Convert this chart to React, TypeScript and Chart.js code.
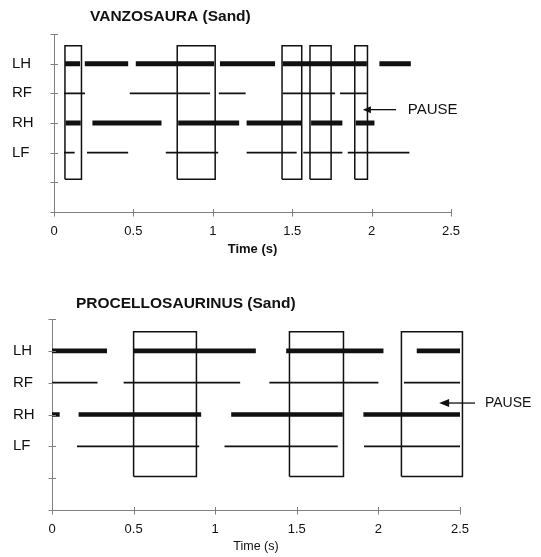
import React, { useEffect, useRef } from 'react';
import { Chart, registerables } from 'chart.js';

Chart.register(...registerables);

// ---------- shared axis data ----------
const ROW_LABELS = ['', '', 'LF', 'RH', 'RF', 'LH', ''];
const X_TICKS = [0, 0.5, 1, 1.5, 2, 2.5];
const ROW_LH = 5;
const ROW_RF = 4;
const ROW_RH = 3;
const ROW_LF = 2;

// ---------- VANZOSAURA (Sand) ----------
const V_TITLE = 'VANZOSAURA (Sand)';
const V_LH = [[0.07, 0.164], [0.194, 0.467], [0.515, 1.009], [1.045, 1.392], [1.44, 1.97], [2.049, 2.247]];
const V_RF = [[0.063, 0.195], [0.477, 0.982], [1.038, 1.207], [1.44, 1.77], [1.801, 1.97]];
const V_RH = [[0.074, 0.168], [0.242, 0.677], [0.782, 1.166], [1.213, 1.56], [1.619, 1.816], [1.9, 2.018]];
const V_LF = [[0.063, 0.13], [0.208, 0.467], [0.704, 1.034], [1.213, 1.528], [1.57, 1.816], [1.85, 2.238]];
const V_BOXES = [[0.069, 0.173], [0.776, 1.015], [1.436, 1.56], [1.612, 1.745], [1.894, 1.974]];
const V_BOX_Y = [1.1, 5.6];
const V_PAUSE = { tip: 1.945, tail: 2.154, text: 2.228, y: 3.45 };

// ---------- PROCELLOSAURINUS (Sand) ----------
const P_TITLE = 'PROCELLOSAURINUS (Sand)';
const P_LH = [[0, 0.337], [0.5, 1.249], [1.435, 2.031], [2.235, 2.5]];
const P_RF = [[0, 0.279], [0.439, 1.153], [1.332, 2.0], [2.157, 2.5]];
const P_RH = [[0, 0.047], [0.163, 0.914], [1.098, 1.782], [1.908, 2.5]];
const P_LF = [[0.153, 0.902], [1.057, 1.751], [1.912, 2.5]];
const P_BOXES = [[0.5, 0.885], [1.455, 1.786], [2.141, 2.515]];
const P_BOX_Y = [1.05, 5.6];
const P_PAUSE = { tip: 2.372, tail: 2.592, text: 2.653, y: 3.36 };

const FONT = "Arial, 'Liberation Sans', Helvetica, sans-serif";
const INK = '#111';
const AXIS = '#808080';

type Seg = number[];

function segData(segs: Seg[], row: number) {
  const out: any[] = [];
  segs.forEach(([a, b]) => {
    out.push({ x: a, y: row }, { x: b, y: row }, { x: b, y: null });
  });
  return out;
}

function boxData(boxes: Seg[], yr: number[]) {
  const [lo, hi] = yr;
  const out: any[] = [];
  boxes.forEach(([a, b]) => {
    out.push({ x: a, y: lo }, { x: a, y: hi }, { x: b, y: hi }, { x: b, y: lo }, { x: a, y: lo }, { x: a, y: null });
  });
  return out;
}

function makeDecor(spec: any) {
  return {
    id: 'gaitDecor',
    afterDraw(chart: any) {
      const { ctx, chartArea } = chart;
      const xs = chart.scales.x;
      const ys = chart.scales.y;
      ctx.save();
      // crossing tick marks
      ctx.strokeStyle = AXIS;
      ctx.lineWidth = 1;
      const axisY = Math.round(ys.getPixelForValue(0)) + 0.5;
      const axisX = Math.round(xs.getPixelForValue(0)) + 0.5;
      ctx.beginPath();
      xs.ticks.forEach((t: any) => {
        const px = Math.round(xs.getPixelForValue(t.value)) + 0.5;
        ctx.moveTo(px, axisY - 3.5);
        ctx.lineTo(px, axisY + 4);
      });
      ys.ticks.forEach((t: any) => {
        const py = Math.round(ys.getPixelForValue(t.value)) + 0.5;
        ctx.moveTo(axisX - 4, py);
        ctx.lineTo(axisX + 3.5, py);
      });
      ctx.stroke();

      // title
      ctx.fillStyle = INK;
      ctx.font = `bold ${spec.titleSize}px ${FONT}`;
      ctx.textBaseline = 'middle';
      ctx.textAlign = 'left';
      ctx.fillText(spec.title, chartArea.left + spec.titleDx, spec.titleY);

      // pause arrow
      const p = spec.pause;
      const py = ys.getPixelForValue(p.y);
      const tipX = xs.getPixelForValue(p.tip);
      const tailX = xs.getPixelForValue(p.tail);
      const textX = xs.getPixelForValue(p.text);
      ctx.strokeStyle = INK;
      ctx.lineWidth = 1.3;
      ctx.beginPath();
      ctx.moveTo(tipX + spec.headLen - 1, py);
      ctx.lineTo(tailX, py);
      ctx.stroke();
      ctx.beginPath();
      ctx.moveTo(tipX, py);
      ctx.lineTo(tipX + spec.headLen, py - spec.headHalf);
      ctx.lineTo(tipX + spec.headLen, py + spec.headHalf);
      ctx.closePath();
      ctx.fill();
      ctx.font = `${spec.pauseSize}px ${FONT}`;
      ctx.fillText('PAUSE', textX, py);
      ctx.restore();
    },
  };
}

function makeConfig(spec: any) {
  const line = (data: any[], w: number) => ({
    data,
    borderColor: INK,
    backgroundColor: INK,
    borderWidth: w,
    borderCapStyle: 'butt',
    pointRadius: 0,
    spanGaps: false,
    fill: false,
  });
  return {
    type: 'line',
    data: {
      datasets: [
        { ...line(boxData(spec.boxes, spec.boxY), 1.5), borderJoinStyle: 'miter', clip: false },
        line(segData(spec.lh, ROW_LH), spec.thick),
        line(segData(spec.rf, ROW_RF), spec.thin),
        line(segData(spec.rh, ROW_RH), spec.thick),
        line(segData(spec.lf, ROW_LF), spec.thin),
      ],
    },
    options: {
      responsive: false,
      animation: false,
      events: [],
      devicePixelRatio: 1,
      layout: { padding: spec.padding },
      plugins: { legend: { display: false }, tooltip: { enabled: false }, title: { display: false } },
      scales: {
        x: {
          type: 'linear',
          min: 0,
          max: 2.5,
          afterFit: (s: any) => { s.height = spec.xHeight; },
          afterBuildTicks: (s: any) => { s.ticks = X_TICKS.map((v) => ({ value: v })); },
          ticks: {
            color: INK,
            font: { family: FONT, size: spec.tickSize },
            padding: spec.xTickPad,
            maxRotation: 0,
            autoSkip: false,
            callback: (v: any) => String(v),
          },
          grid: { drawOnChartArea: false, drawTicks: false },
          border: { color: AXIS, width: 1 },
          title: {
            display: true,
            text: 'Time (s)',
            color: INK,
            font: { family: FONT, size: spec.xTitleSize, weight: spec.xTitleWeight },
            padding: { top: 0, bottom: spec.xTitlePad },
          },
        },
        y: {
          type: 'linear',
          min: 0,
          max: 6,
          afterFit: (s: any) => { s.width = spec.yWidth; },
          ticks: {
            stepSize: 1,
            autoSkip: false,
            crossAlign: 'far',
            padding: 0,
            color: INK,
            font: { family: FONT, size: 15 },
            callback: (v: any) => ROW_LABELS[v] ?? '',
          },
          grid: { drawOnChartArea: false, drawTicks: false },
          border: { color: AXIS, width: 1 },
        },
      },
    },
    plugins: [makeDecor(spec)],
  };
}

const TOP_SPEC = {
  title: V_TITLE, lh: V_LH, rf: V_RF, rh: V_RH, lf: V_LF, boxes: V_BOXES, boxY: V_BOX_Y, pause: V_PAUSE,
  padding: { top: 34, left: 12, right: 90, bottom: 0 },
  yWidth: 42, xHeight: 60, xTickPad: 12, tickSize: 13, xTitleSize: 13, xTitleWeight: 'bold', xTitlePad: 15,
  thick: 5, thin: 1.8, titleSize: 15.5, titleDx: 36, titleY: 17,
  pauseSize: 15, headLen: 8, headHalf: 3.5,
};

const BOTTOM_SPEC = {
  title: P_TITLE, lh: P_LH, rf: P_RF, rh: P_RH, lf: P_LF, boxes: P_BOXES, boxY: P_BOX_Y, pause: P_PAUSE,
  padding: { top: 47, left: 13, right: 81, bottom: 0 },
  yWidth: 39, xHeight: 47, xTickPad: 12, tickSize: 13, xTitleSize: 12.5, xTitleWeight: 'normal', xTitlePad: 3,
  thick: 4.6, thin: 1.7, titleSize: 15.5, titleDx: 24, titleY: 31.5,
  pauseSize: 14, headLen: 10, headHalf: 4,
};

function GaitChart({ spec, top, height }: { spec: any; top: number; height: number }) {
  const ref = useRef<HTMLCanvasElement | null>(null);
  useEffect(() => {
    if (!ref.current) return;
    const chart = new Chart(ref.current, makeConfig(spec) as any);
    return () => chart.destroy();
  }, [spec]);
  return (
    <canvas
      ref={ref}
      width={541}
      height={height}
      style={{ position: 'absolute', left: 0, top, width: 541, height, display: 'block' }}
    />
  );
}

export default function App() {
  return (
    <div style={{ position: 'fixed', left: 0, top: 0, width: 541, height: 557, background: '#fff', overflow: 'hidden' }}>
      <GaitChart spec={TOP_SPEC} top={0} height={272} />
      <GaitChart spec={BOTTOM_SPEC} top={272} height={285} />
    </div>
  );
}
